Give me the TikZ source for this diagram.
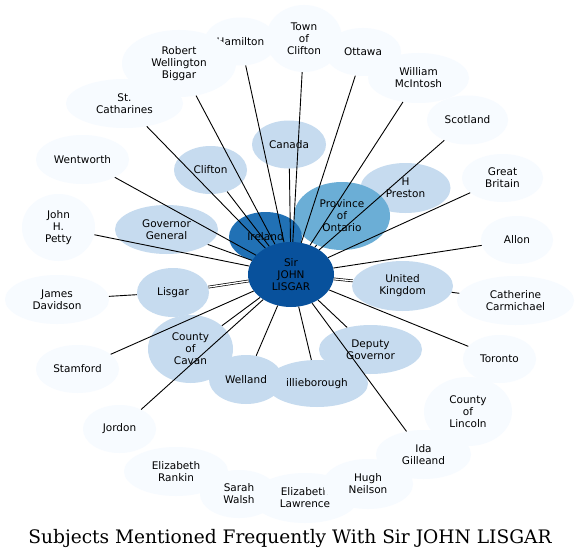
\documentclass[tikz,border=0pt]{standalone}
\usepackage{fontspec}
\setmainfont{DejaVu Sans}
\newfontfamily\titlefont{DejaVu Serif}
\usetikzlibrary{shapes.geometric}
\definecolor{cfaint}{HTML}{F7FBFF}
\definecolor{clight}{HTML}{C6DBEF}
\definecolor{cmid}{HTML}{6BAED6}
\definecolor{cdark}{HTML}{2171B5}
\definecolor{cdeep}{HTML}{08519C}
\pgfdeclarelayer{below}
\pgfdeclarelayer{above}
\pgfsetlayers{below,main,above}
\begin{document}
\begin{tikzpicture}[x=1pt,y=-1pt,
  nd/.style={ellipse, inner sep=0pt, align=center, text=black,
    font=\fontsize{10.5}{12}\selectfont},
  faint/.style={nd, fill=cfaint},
  light/.style={nd, fill=clight},
  sz/.style 2 args={minimum width=#1pt, minimum height=#2pt},
  ed/.style={draw=black, line width=0.9pt},
  dbl/.style={draw=black, double=white, line width=0.7pt, double distance=1.3pt},
]
\useasboundingbox (0,0) rectangle (580,559);
\fill[white] (0,0) rectangle (580,559);

% faint outer nodes
\node[faint, sz={72}{48}] (ham) at (240.5,41.5) {Hamilton};
\node[faint, sz={114}{67}] (rwb) at (179,63.5) {Robert\\Wellington\\Biggar};
\node[faint, sz={76}{67}] (toc) at (304,38.5) {Town\\of\\Clifton};
\node[faint, sz={76}{48}] (ott) at (363,52) {Ottawa};
\node[faint, sz={101}{50}] (wmc) at (418.5,78) {William\\McIntosh};
\node[faint, sz={81}{49}] (sco) at (467.5,120) {Scotland};
\node[faint, sz={81}{48}] (gb) at (502.5,178) {Great\\Britain};
\node[faint, sz={72}{48}] (all) at (517,240) {Allon};
\node[faint, sz={117}{49}] (cc) at (515.5,300.5) {Catherine\\Carmichael};
\node[faint, sz={73}{48}] (tor) at (499.5,359) {Toronto};
\node[faint, sz={95}{49}] (ida) at (423.5,454.5) {Ida\\Gilleand};
\node[faint, sz={88}{69}] (col) at (468,411.5) {County\\of\\Lincoln};
\node[faint, sz={106}{50}] (el) at (305,498) {Elizabeth\\Lawrence};
\node[faint, sz={78}{48}] (sw) at (239,494) {Sarah\\Walsh};
\node[faint, sz={90}{50}] (hn) at (368,484) {Hugh\\Neilson};
\node[faint, sz={104}{49}] (er) at (176,471.5) {Elizabeth\\Rankin};
\node[faint, sz={73}{48}] (jor) at (119.5,429) {Jordon};
\node[faint, sz={83}{48}] (sta) at (77.5,369) {Stamford};
\node[faint, sz={104}{49}] (jd) at (57,299.5) {James\\Davidson};
\node[faint, sz={73}{67}] (jhp) at (58.5,227.5) {John\\H.\\Petty};
\node[faint, sz={93}{49}] (wen) at (82.5,159.5) {Wentworth};
\node[faint, sz={117}{49}] (stc) at (124.5,103.5) {St.\\Catharines};

% light nodes
\node[light, sz={74}{48}] (can) at (289,144.5) {Canada};
\node[light, sz={73}{48}] (clf) at (210.5,170) {Clifton};
\node[light, sz={103}{49}] (gg) at (166.5,229.5) {Governor\\General};
\node[light, sz={72}{49}] (lis) at (173,292.5) {Lisgar};
\node[light, sz={85}{68}] (cav) at (190.5,349) {County\\of\\Cavan};
\node[light, sz={102}{47}] (ill) at (317,383.5) {illieborough};
\node[light, sz={74}{49}] (wel) at (246,379.5) {Welland};
\node[light, sz={103}{49}] (dg) at (370.5,349.5) {Deputy\\Governor};
\node[light, sz={101}{50}] (uk) at (402.5,286) {United\\Kingdom};
\node[light, sz={90}{50}] (hp) at (405.5,188) {H\\Preston};
\node[nd, fill=cmid, sz={96}{68}] (pro) at (342,216) {Province\\of\\Ontario};
\node[nd, fill=cdark, sz={73}{50}] (ire) at (265.5,237) {Ireland};
\node[nd, fill=cdeep, sz={86}{65}] (sjl) at (291,274.5) {Sir\\JOHN\\LISGAR};

% edges hidden under nodes
\begin{pgfonlayer}{below}
\foreach \t in {col,hn,el,sw,er,hp,ire}
  \draw[ed] (sjl) -- (\t);
\end{pgfonlayer}

% edges drawn over nodes
\begin{pgfonlayer}{above}
\foreach \t in {ham,rwb,toc,ott,wmc,sco,gb,all,tor,ida,jor,sta,wen,stc,jhp,can,clf,gg,cav,dg,wel,ill,pro}
  \draw[ed] (sjl) -- (\t);
\draw[dbl] (sjl) -- (lis);
\draw[dbl] (sjl) -- (uk);
\draw[ed] (lis) -- (jd);
\draw[ed] (uk) -- (cc);
\end{pgfonlayer}

\node[font=\titlefont\fontsize{18.6}{22}\selectfont] (title) at (290,538)
  {Subjects Mentioned Frequently With Sir JOHN LISGAR};
\end{tikzpicture}
\end{document}
